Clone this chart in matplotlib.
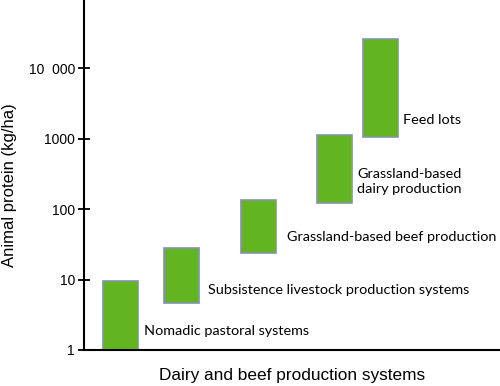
import matplotlib.pyplot as plt
import numpy as np

systems = [
    'Nomadic pastoral systems',
    'Subsistence livestock production systems',
    'Grassland-based beef production',
    'Grassland-based\ndairy production',
    'Feed lots',
]
low = [1, 4.7, 24, 121, 1050]
high = [9.5, 27.8, 135, 1130, 25900]
tick_values = [1, 10, 100, 1000, 10000]
tick_labels = ['1', '10', '100', '1000', '10\u2007000']

# horizontal layout (pixel offsets from the y axis) and label anchors
x_pos = [36, 97, 174, 250, 296]
label_dx = [24, 27, 29, 23, 23]
label_y = [1.86, 7.1, 40, 243, 1850]

fig = plt.figure(figsize=(5, 3.86), dpi=100)
ax = fig.add_axes([0.168, 0.0933, 0.832, 0.9067])

ax.set_yscale('log')
lo = np.array(low)
hi = np.array(high)
ax.bar(x_pos, hi - lo, bottom=lo, width=35, color='#62b521',
       edgecolor='#8394a8', linewidth=1.2, zorder=2)

for x, dx, y, name in zip(x_pos, label_dx, label_y, systems):
    ax.text(x + dx, y, name, fontsize=10.4, family='Lato',
            va='center', ha='left', linespacing=1.3)

ax.set_xlim(0, 416)
ax.set_ylim(1, 10 ** 4.97)
ax.set_yticks(tick_values)
ax.set_yticklabels(tick_labels)
ax.yaxis.set_minor_locator(plt.NullLocator())
ax.set_xticks([])
ax.tick_params(axis='y', direction='inout', length=9, width=1.3,
               labelsize=10, pad=2)
for lab in ax.get_yticklabels():
    lab.set_family(['Liberation Sans', 'DejaVu Sans'])

for side in ['top', 'right']:
    ax.spines[side].set_visible(False)
for side in ['left', 'bottom']:
    ax.spines[side].set_linewidth(1.5)

ax.set_ylabel('Animal protein (kg/ha)', fontsize=12, family='Liberation Sans')
ax.yaxis.set_label_coords(-0.16, 0.47)
ax.set_xlabel('Dairy and beef production systems', fontsize=12.4,
              family='Liberation Sans', labelpad=13)

fig.savefig('out.png', dpi=100)
